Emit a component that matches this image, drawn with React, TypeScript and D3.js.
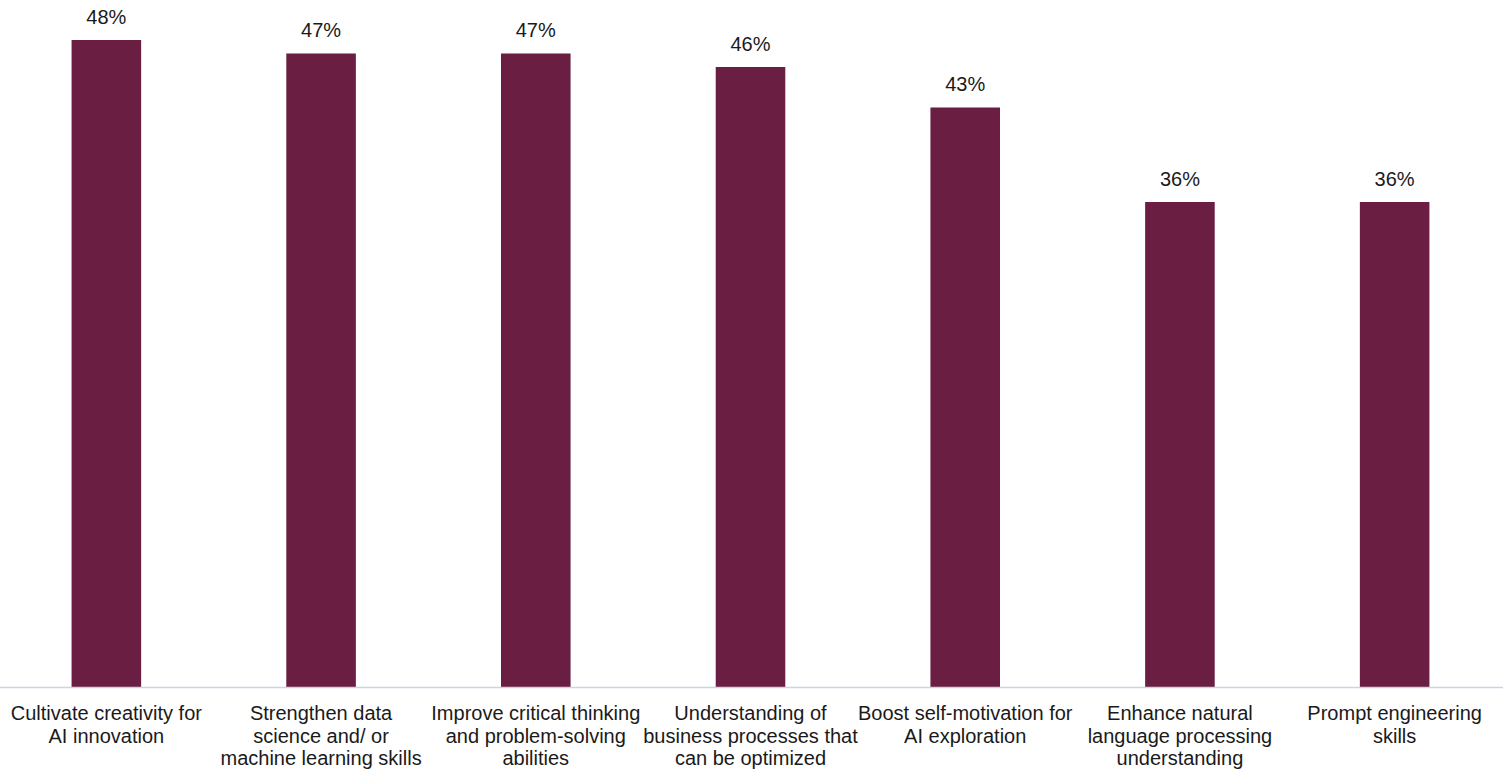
import React from "react";
import * as d3 from "d3";

const categories: string[][] = [
  ["Cultivate creativity for", "AI innovation"],
  ["Strengthen data", "science and/ or", "machine learning skills"],
  ["Improve critical thinking", "and problem-solving", "abilities"],
  ["Understanding of", "business processes that", "can be optimized"],
  ["Boost self-motivation for", "AI exploration"],
  ["Enhance natural", "language processing", "understanding"],
  ["Prompt engineering", "skills"],
];
const values: number[] = [48, 47, 47, 46, 43, 36, 36];

const W = 1506;
const H = 769;

export default function App() {
  const idx = categories.map((_, i) => String(i));
  const x = d3.scaleBand<string>().domain(idx).range([-1, 1502]).paddingInner(0.676).paddingOuter(0.338);
  const y = d3.scaleLinear().domain([0, 50]).range([688, 13]);
  const font = "'Liberation Sans', Arial, sans-serif";
  return (
    <svg width={W} height={H} style={{ position: "absolute", left: 0, top: 0, background: "#fff" }}>
      {values.map((v, i) => {
        const bx = x(String(i))!;
        return (
          <g key={i}>
            <rect x={bx} y={y(v)} width={x.bandwidth()} height={y(0) - y(v)} fill="#6a1e42" />
            <text x={bx + x.bandwidth() / 2} y={y(v) - 16.5} textAnchor="middle" fontFamily={font} fontSize={20} fill="#1a1a1a">
              {v}%
            </text>
          </g>
        );
      })}
      <line x1={0} x2={1503} y1={687.5} y2={687.5} stroke="#c8d5e9" strokeWidth={1.6} />
      {categories.map((lines, i) => {
        const cx = x(String(i))! + x.bandwidth() / 2;
        return (
          <text key={i} textAnchor="middle" fontFamily={font} fontSize={20} fill="#1a1a1a">
            {lines.map((l, j) => (
              <tspan key={j} x={cx} y={720 + j * 22.6}>
                {l}
              </tspan>
            ))}
          </text>
        );
      })}
    </svg>
  );
}
